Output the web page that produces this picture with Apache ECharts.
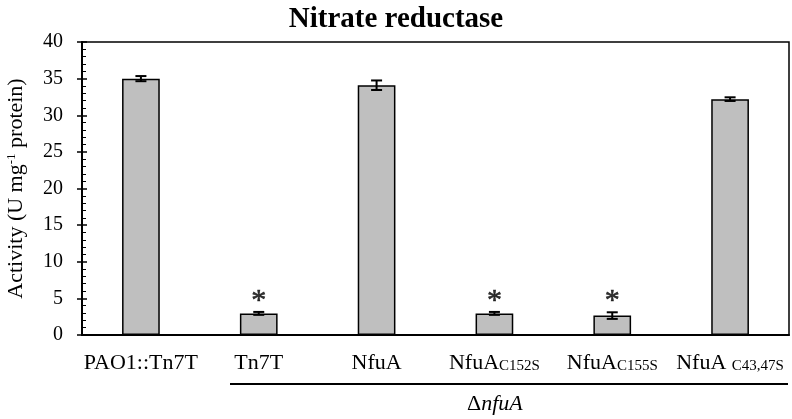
<!DOCTYPE html>
<html>
<head>
<meta charset="utf-8">
<script src="https://cdn.jsdelivr.net/npm/echarts@6/dist/echarts.min.js"></script>
<style>
  html, body { margin: 0; padding: 0; background: #fff; }
  #main { width: 792px; height: 419px; }
</style>
</head>
<body>
<div id="main"></div>
<script>
// 数据
var names = ['PAO1::Tn7T', 'Tn7T', 'NfuA', 'NfuA', 'NfuA', 'NfuA '];
var subs = ['', '', '', 'C152S', 'C155S', 'C43,47S'];
var activity = [35.0, 2.95, 34.1, 2.95, 2.65, 32.2];
var errors = [0.35, 0.2, 0.65, 0.2, 0.45, 0.25];
var stars = ['', '*', '', '*', '*', ''];
var starLevel = 4.6;
var yTicks = { min: 0, max: 40, interval: 5 };

var font = 'Liberation Serif';
var chart = echarts.init(document.getElementById('main'));

var starData = [];
stars.forEach(function (s, i) { if (s) starData.push([i, starLevel]); });

var option = {
    animation: false,
    title: {
        text: 'Nitrate reductase',
        left: 'center',
        top: 0,
        textStyle: { fontFamily: font, fontSize: 29, fontWeight: 'bold', color: '#000' }
    },
    grid: {
        left: 82, right: 3, top: 42, bottom: 84,
        outerBoundsMode: 'none',
        show: true,
        borderColor: '#000',
        borderWidth: 1.5
    },
    xAxis: {
        type: 'category',
        data: names.map(function (n, i) { return i + ''; }),
        axisTick: { show: false },
        axisLine: { lineStyle: { color: '#000', width: 2 } },
        axisLabel: {
            margin: 17,
            interval: 0,
            formatter: function (v, i) {
                var s = '{n|' + names[i] + '}';
                if (subs[i]) s += '{s|' + subs[i] + '}';
                return s;
            },
            rich: {
                n: { fontFamily: font, fontSize: 22, color: '#000' },
                s: { fontFamily: font, fontSize: 15, color: '#000', verticalAlign: 'bottom', padding: [7, 0, 0, 0] }
            }
        }
    },
    yAxis: [
        {
            type: 'value',
            min: yTicks.min, max: yTicks.max, interval: yTicks.interval,
            position: 'left',
            name: '{a|Activity (U mg}{b|-1}{a| protein)}',
            nameLocation: 'middle',
            nameRotate: 90,
            nameGap: 55,
            nameTextStyle: {
                rich: {
                    a: { fontFamily: font, fontSize: 22, color: '#000' },
                    b: { fontFamily: font, fontSize: 13, color: '#000', verticalAlign: 'top', padding: [0, 0, 8, 0] }
                }
            },
            splitLine: { show: false },
            axisLine: { show: true, lineStyle: { color: '#000', width: 2 } },
            axisTick: { show: true, length: 5, lineStyle: { color: '#000', width: 1.5 } },
            axisLabel: { margin: 19, fontFamily: font, fontSize: 20, color: '#000' }
        },
        {
            // 内侧小刻度
            type: 'value',
            min: yTicks.min, max: yTicks.max, interval: yTicks.interval,
            position: 'left',
            splitLine: { show: false },
            axisLine: { show: false },
            axisLabel: { show: false },
            axisTick: { show: true, inside: true, length: 5, lineStyle: { color: '#000', width: 1.5 } },
            minorTick: { show: true, splitNumber: 5, length: 4, lineStyle: { color: '#000', width: 1 } }
        }
    ],
    series: [
        {
            type: 'bar',
            data: activity,
            barWidth: '32%',
            itemStyle: { color: '#bfbfbf', borderColor: '#000', borderWidth: 1.5 }
        },
        {
            type: 'custom',
            data: activity.map(function (v, i) { return [i, v, errors[i]]; }),
            z: 10,
            renderItem: function (params, api) {
                var x = api.value(0), v = api.value(1), e = api.value(2);
                var hi = api.coord([x, v + e]);
                var lo = api.coord([x, v - e]);
                var w = 5.5;
                var st = { stroke: '#000', lineWidth: 2 };
                return {
                    type: 'group',
                    children: [
                        { type: 'line', shape: { x1: hi[0], y1: hi[1], x2: lo[0], y2: lo[1] }, style: st },
                        { type: 'line', shape: { x1: hi[0] - w, y1: hi[1], x2: hi[0] + w, y2: hi[1] }, style: st },
                        { type: 'line', shape: { x1: lo[0] - w, y1: lo[1], x2: lo[0] + w, y2: lo[1] }, style: st }
                    ]
                };
            }
        },
        {
            type: 'scatter',
            symbolSize: 0,
            data: starData,
            label: {
                show: true,
                position: 'inside',
                formatter: '*',
                fontFamily: font, fontSize: 30, color: '#000',
                textBorderColor: '#000', textBorderWidth: 0.6
            }
        }
    ],
    graphic: [
        {
            type: 'line',
            shape: { x1: 230, y1: 384, x2: 788, y2: 384 },
            style: { stroke: '#000', lineWidth: 2 }
        },
        {
            type: 'text',
            left: 467,
            top: 393,
            style: {
                text: '{d|Δ}{i|nfuA}',
                rich: {
                    d: { fontFamily: font, fontSize: 22, fill: '#000' },
                    i: { fontFamily: font, fontSize: 22, fontStyle: 'italic', fill: '#000' }
                }
            }
        }
    ]
};
chart.setOption(option);
</script>
</body>
</html>
